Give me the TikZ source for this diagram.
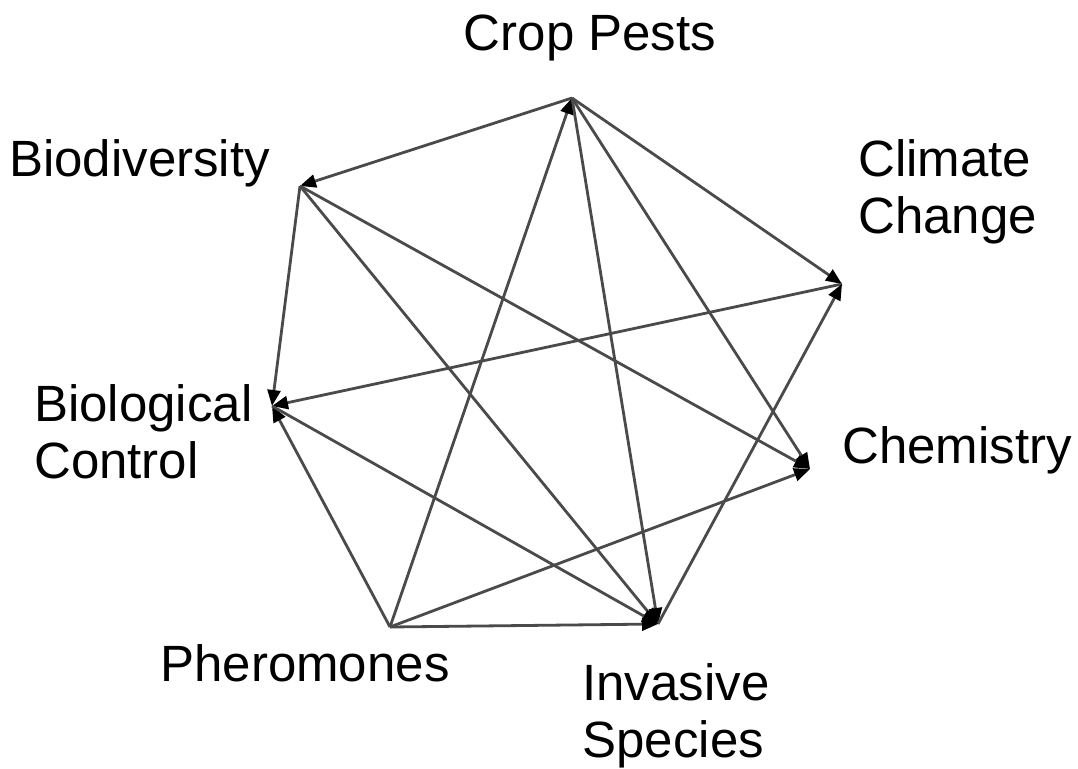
\documentclass[tikz,border=0pt]{standalone}
\usepackage{fontspec}
\setmainfont{Liberation Sans}
\usetikzlibrary{arrows.meta}
\definecolor{edgegray}{HTML}{4A4A4A}

\begin{document}
\begin{tikzpicture}[
  x=1pt, y=-1pt,
  >={Triangle[length=16pt, width=13pt, black]},
  link/.style={edgegray, line width=2.8pt, ->},
  lbl/.style={font=\fontsize{51}{57}\selectfont, inner sep=0pt, align=left}
]

% Canvas
\useasboundingbox (0,0) rectangle (1078,768);

% ── Vertices ──
\coordinate (cp) at (572,98);
\coordinate (bd) at (300,186);
\coordinate (cc) at (842,284);
\coordinate (bc) at (272,406);
\coordinate (ch) at (810,469);
\coordinate (ph) at (390,627);
\coordinate (is) at (658,624);

% ── Labels ──
\node[lbl] (cpl) at (590,38) {Crop Pests};
\node[lbl, anchor=west] (bdl) at (9,163) {Biodiversity};
\node[lbl, anchor=west] (ccl) at (858,192) {Climate\\Change};
\node[lbl, anchor=west] (bcl) at (34,432) {Biological\\Control};
\node[lbl, anchor=west] (chl) at (842,450) {Chemistry};
\node[lbl] (phl) at (305,663) {Pheromones};
\node[lbl] (isl) at (676,716) {Invasive\\Species};

% ── Links ──
\draw[link] (cp) -- (bd);
\draw[link] (cp) -- (cc);
\draw[link] (ph) -- (cp);
\draw[link] (cp) -- (is);
\draw[link] (cp) -- (ch);
\draw[link] (bd) -- (bc);
\draw[link] (bd) -- (is);
\draw[link] (bd) -- (ch);
\draw[link] (cc) -- (bc);
\draw[link] (is) -- (cc);
\draw[link] (ph) -- (bc);
\draw[link] (bc) -- (is);
\draw[link] (ph) -- (ch);
\draw[link] (ph) -- (is);

\end{tikzpicture}
\end{document}
